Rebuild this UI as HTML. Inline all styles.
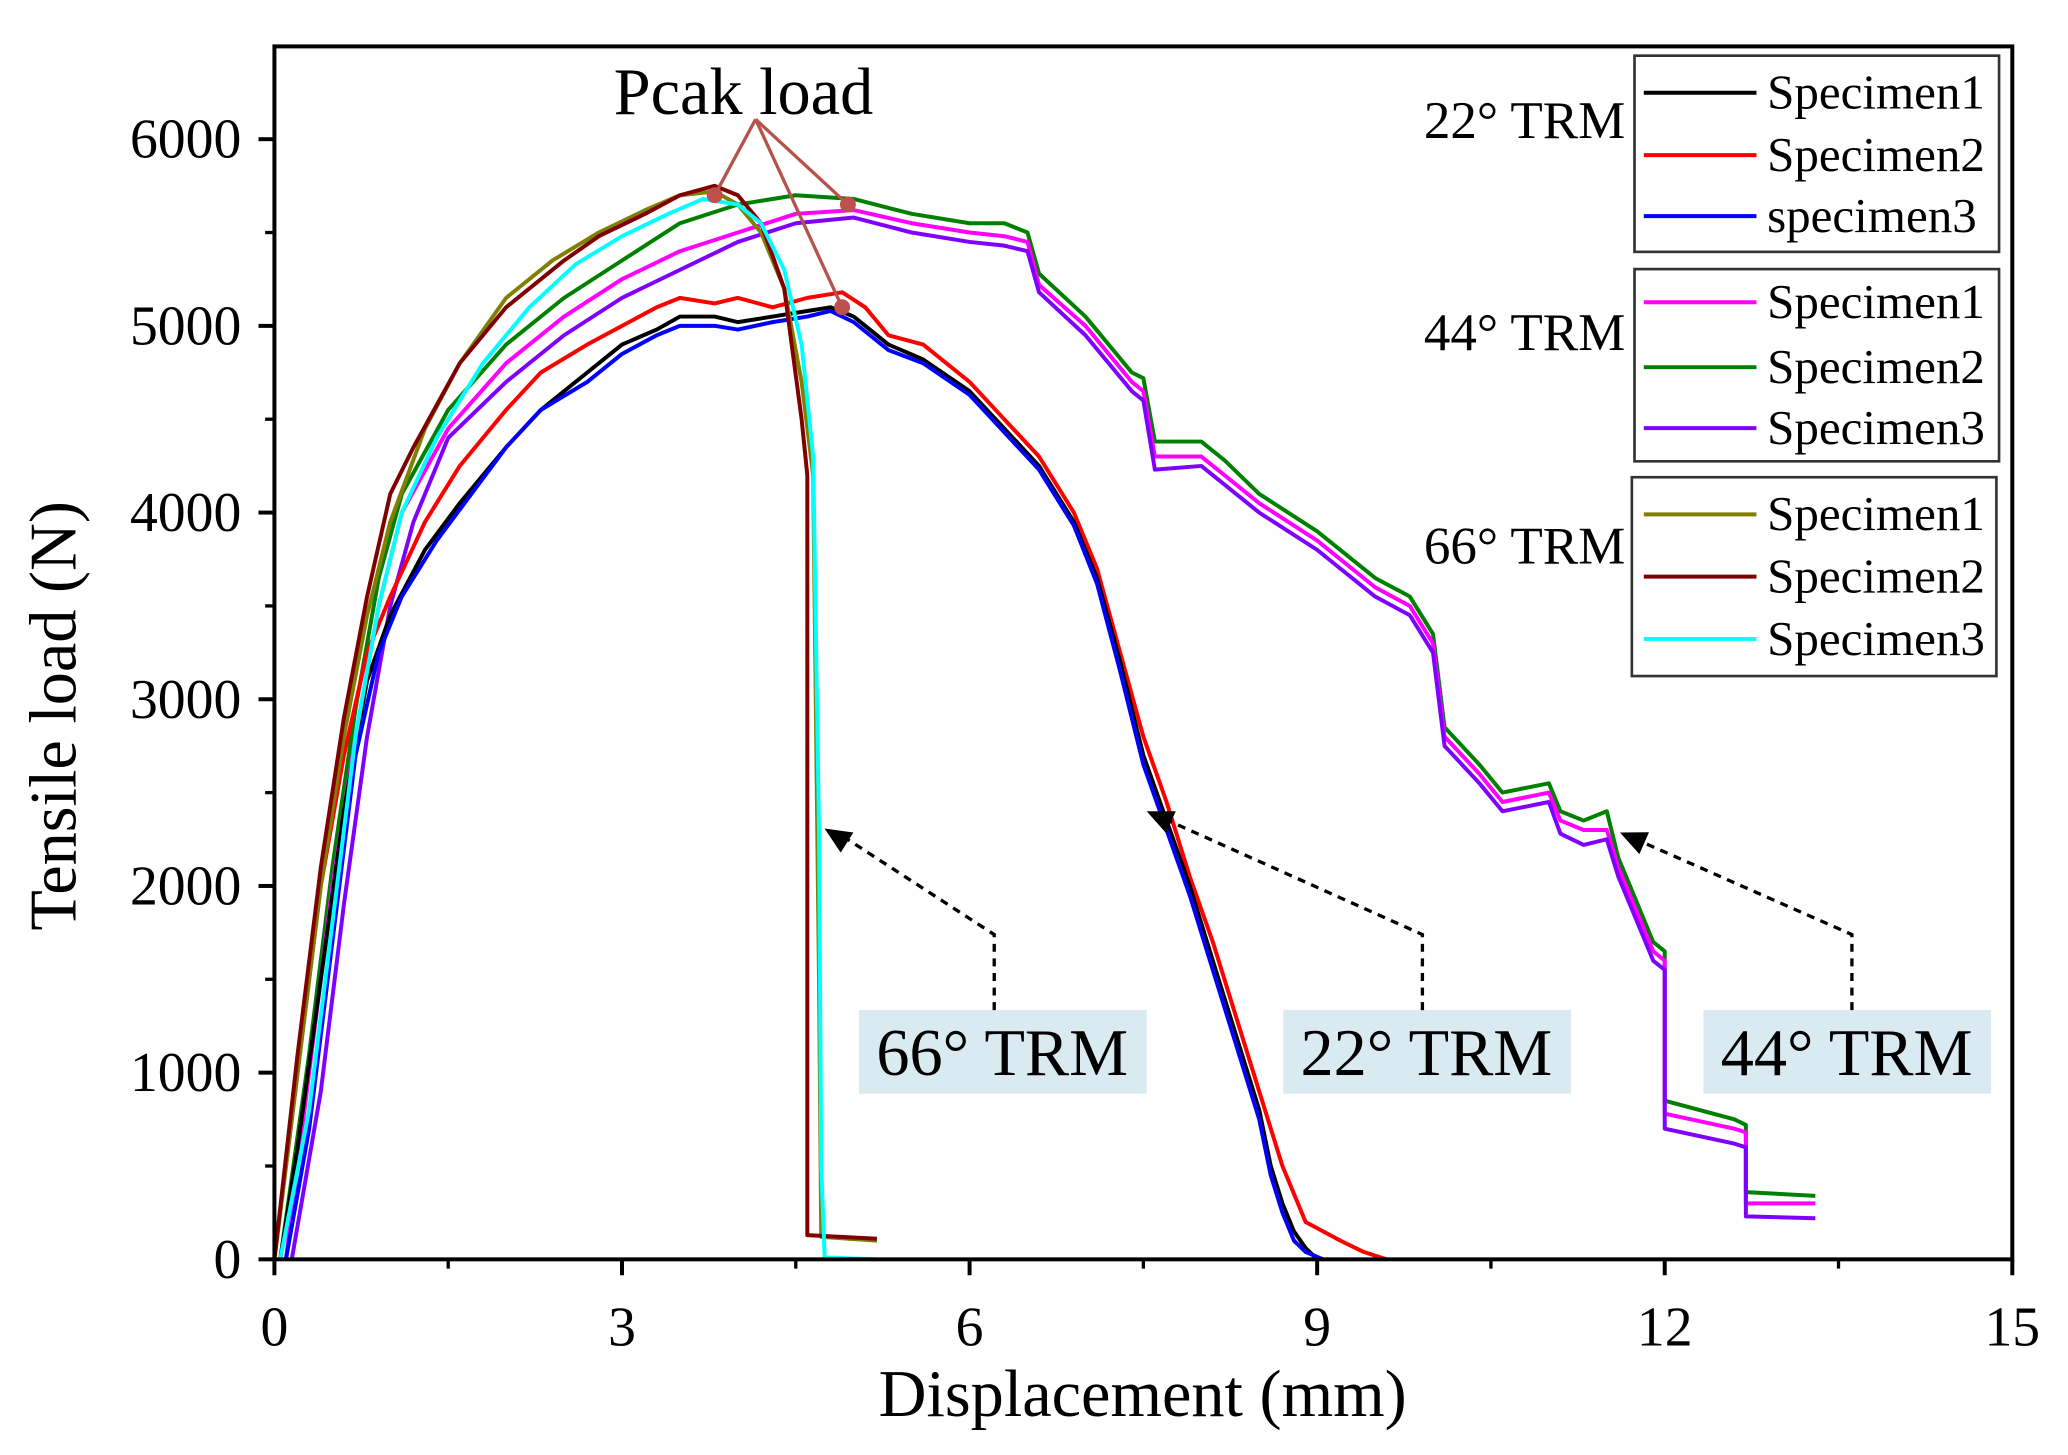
<!DOCTYPE html>
<html><head><meta charset="utf-8"><style>
html,body{margin:0;padding:0;background:#fff;}
svg{display:block;font-family:"Liberation Serif",serif;}
</style></head><body>
<svg id="chart" width="2068" height="1455" viewBox="0 0 1560 1097.6" xmlns="http://www.w3.org/2000/svg">
<g id="plot"></g>
<g id="axes"></g>
<g id="legend">
  <rect x="1233" y="42" width="275" height="148" fill="#fff" stroke="#333" stroke-width="2"/>
  <rect x="1233" y="203" width="275" height="145" fill="#fff" stroke="#333" stroke-width="2"/>
  <rect x="1231" y="360" width="275" height="150" fill="#fff" stroke="#333" stroke-width="2"/>
  <text x="1226" y="104" font-size="40" text-anchor="end">22° TRM</text>
  <text x="1226" y="264" font-size="40" text-anchor="end">44° TRM</text>
  <text x="1226" y="425" font-size="40" text-anchor="end">66° TRM</text>
</g>
<g id="annot">
  <text x="463" y="86" font-size="50">Pcak load</text>
</g>
</svg>
<script>
// ---- data (x: displacement mm, y: load N) ----
const s22_1x=[0.05,0.2,0.4,0.6,0.8,1.0,1.3,1.6,2.0,2.3,2.7,3.0,3.3,3.5,3.8,4.0,4.3,4.6,4.8,5.0,5.3,5.6,6.0,6.3,6.6,6.9,7.1,7.3,7.5,7.7,7.9,8.1,8.3,8.5,8.6,8.7,8.8,8.9,9.0];
const s22_1y=[0,600,1500,2400,3100,3450,3800,4050,4350,4550,4750,4900,4980,5050,5050,5020,5050,5080,5100,5050,4900,4820,4650,4450,4250,3950,3650,3200,2700,2350,2000,1600,1200,800,500,300,150,60,0];
const s22_2x=[0.0,0.2,0.4,0.6,0.8,1.0,1.3,1.6,2.0,2.3,2.7,3.0,3.3,3.5,3.8,4.0,4.3,4.6,4.9,5.1,5.3,5.6,6.0,6.3,6.6,6.9,7.1,7.3,7.5,7.7,7.9,8.1,8.3,8.5,8.7,8.9,9.2,9.4,9.6];
const s22_2y=[0,1000,2000,2700,3250,3550,3950,4250,4550,4750,4900,5000,5100,5150,5120,5150,5100,5150,5180,5100,4950,4900,4700,4500,4300,4000,3700,3250,2800,2450,2050,1700,1300,900,500,200,100,40,0];
const s22_3x=[0.1,0.3,0.5,0.7,0.9,1.1,1.4,1.7,2.0,2.3,2.7,3.0,3.3,3.5,3.8,4.0,4.3,4.6,4.8,5.0,5.3,5.6,6.0,6.3,6.6,6.9,7.1,7.3,7.5,7.7,7.9,8.1,8.3,8.5,8.6,8.7,8.8,8.9,9.05];
const s22_3y=[0,700,1700,2700,3250,3550,3850,4100,4350,4550,4700,4850,4950,5000,5000,4980,5020,5050,5080,5020,4870,4800,4630,4430,4230,3930,3620,3150,2650,2300,1950,1550,1150,750,450,250,100,40,0];
const s44_1x=[0.1,0.3,0.5,0.7,0.9,1.1,1.5,2.0,2.5,3.0,3.5,4.0,4.5,5.0,5.5,6.0,6.3,6.5,6.6,7.0,7.4,7.5,7.6,8.0,8.2,8.5,9.0,9.5,9.8,10.0,10.1,10.4,10.6,11.0,11.1,11.3,11.5,11.6,11.7,11.9,12.0,12.0,12.6,12.7,12.7,13.3];
const s44_1y=[0,1000,2000,2800,3500,4000,4450,4800,5050,5250,5400,5500,5600,5620,5550,5500,5480,5450,5220,5000,4700,4650,4300,4300,4200,4050,3850,3600,3500,3300,2800,2600,2450,2500,2350,2300,2300,2100,1950,1650,1600,780,700,680,300,300];
const s44_2x=[0.05,0.3,0.5,0.7,0.9,1.1,1.5,2.0,2.5,3.0,3.5,4.0,4.5,5.0,5.5,6.0,6.3,6.5,6.6,7.0,7.4,7.5,7.6,8.0,8.2,8.5,9.0,9.5,9.8,10.0,10.1,10.4,10.6,11.0,11.1,11.3,11.5,11.6,11.7,11.9,12.0,12.0,12.6,12.7,12.7,13.3];
const s44_2y=[0,1100,2100,2950,3650,4100,4550,4900,5150,5350,5550,5650,5700,5680,5600,5550,5550,5500,5280,5050,4750,4720,4380,4380,4280,4100,3900,3650,3550,3350,2850,2650,2500,2550,2400,2350,2400,2150,2000,1700,1650,850,750,720,360,340];
const s44_3x=[0.15,0.4,0.6,0.8,1.0,1.2,1.5,2.0,2.5,3.0,3.5,4.0,4.5,5.0,5.5,6.0,6.3,6.5,6.6,7.0,7.4,7.5,7.6,8.0,8.2,8.5,9.0,9.5,9.8,10.0,10.1,10.4,10.6,11.0,11.1,11.3,11.5,11.6,11.7,11.9,12.0,12.0,12.6,12.7,12.7,13.3];
const s44_3y=[0,900,1900,2800,3500,3950,4400,4700,4950,5150,5300,5450,5550,5580,5500,5450,5430,5400,5180,4950,4650,4600,4230,4250,4150,4000,3800,3550,3450,3250,2750,2550,2400,2450,2280,2220,2250,2050,1900,1600,1550,700,620,600,230,220];
const s66_1x=[0.0,0.2,0.4,0.6,0.8,1.0,1.3,1.6,2.0,2.4,2.8,3.2,3.5,3.8,4.0,4.2,4.4,4.55,4.65,4.7,4.72,5.2];
const s66_1y=[0,1000,2000,2800,3450,3950,4450,4800,5150,5350,5500,5620,5700,5720,5650,5500,5200,4700,4200,1500,120,100];
const s66_2x=[0.0,0.2,0.4,0.6,0.8,1.0,1.2,1.6,2.0,2.5,2.8,3.2,3.5,3.8,4.0,4.2,4.4,4.55,4.6,4.6,5.2];
const s66_2y=[0,1100,2100,2900,3550,4100,4350,4800,5100,5350,5480,5600,5700,5750,5700,5550,5200,4500,4200,130,110];
const s66_3x=[0.05,0.3,0.5,0.7,0.9,1.1,1.4,1.8,2.2,2.6,3.0,3.4,3.7,4.0,4.2,4.4,4.55,4.65,4.7,4.72,4.75,5.2];
const s66_3y=[0,800,1800,2800,3500,4000,4400,4800,5100,5330,5480,5600,5680,5650,5550,5300,4900,4300,2300,500,10,0];
const xTicks=[0,3,6,9,12,15];
const yTicks=[0,1000,2000,3000,4000,5000,6000];

const NS='http://www.w3.org/2000/svg';
const X0=207,X1=1518,Y0=950,Y6=105,TOP=35;
function sx(v){return X0+(X1-X0)*v/15;}
function sy(v){return Y0-(Y0-Y6)*v/6000;}
function mk(tag,attrs,parent){const e=document.createElementNS(NS,tag);for(const k in attrs)e.setAttribute(k,attrs[k]);parent.appendChild(e);return e;}
const plot=document.getElementById('plot'),axes=document.getElementById('axes'),legend=document.getElementById('legend'),annot=document.getElementById('annot');

const series=[
 ['22-specimen1',s22_1x,s22_1y,'#000000','Specimen1',0],
 ['22-specimen2',s22_2x,s22_2y,'#ff0000','Specimen2',0],
 ['22-specimen3',s22_3x,s22_3y,'#0000ff','specimen3',0],
 ['44-specimen1',s44_1x,s44_1y,'#ff00ff','Specimen1',1],
 ['44-specimen2',s44_2x,s44_2y,'#008000','Specimen2',1],
 ['44-specimen3',s44_3x,s44_3y,'#8000ff','Specimen3',1],
 ['66-specimen1',s66_1x,s66_1y,'#808000','Specimen1',2],
 ['66-specimen2',s66_2x,s66_2y,'#800000','Specimen2',2],
 ['66-specimen3',s66_3x,s66_3y,'#00ffff','Specimen3',2]
];
const drawOrder=[4,3,5,1,0,2,6,7,8];
drawOrder.forEach(i=>{const s=series[i];
 const d=s[1].map((v,j)=>(j?'L':'M')+sx(v).toFixed(1)+' '+sy(s[2][j]).toFixed(1)).join(' ');
 const p=mk('path',{d:d,fill:'none',stroke:s[3],'stroke-width':3,'stroke-linejoin':'round'},plot);
 
 
});
// legend entries
const rowsY=[[70,117,163],[228,277,323],[388,435,482]];
series.forEach((s,i)=>{const g=s[5],r=i%3,y=rowsY[g][r];
 const l=mk('line',{x1:1240,x2:1325,y1:y,y2:y,stroke:s[3],'stroke-width':3},legend);
 
 
 const t=mk('text',{x:1333,y:y+12,'font-size':37},legend);t.textContent=s[4];
 
 
});
// axes frame
const fr=mk('rect',{x:X0,y:TOP,width:X1-X0,height:Y0-TOP,fill:'none',stroke:'#000','stroke-width':3},axes);


xTicks.forEach(v=>{const t=mk('text',{x:sx(v),y:1015,'font-size':42,'text-anchor':'middle'},axes);t.textContent=v;
 
 
 mk('line',{x1:sx(v),x2:sx(v),y1:Y0,y2:Y0+12,stroke:'#000','stroke-width':3},axes);
});
for(let v=1.5;v<15;v+=3)mk('line',{x1:sx(v),x2:sx(v),y1:Y0,y2:Y0+7,stroke:'#000','stroke-width':2.5},axes);
yTicks.forEach(v=>{const t=mk('text',{x:182,y:sy(v)+14,'font-size':42,'text-anchor':'end'},axes);t.textContent=v;
 
 
 mk('line',{x1:X0-12,x2:X0,y1:sy(v),y2:sy(v),stroke:'#000','stroke-width':3},axes);
});
for(let v=500;v<6500;v+=1000)mk('line',{x1:X0-7,x2:X0,y1:sy(v),y2:sy(v),stroke:'#000','stroke-width':2.5},axes);
const xt=mk('text',{x:862,y:1068,'font-size':50,'text-anchor':'middle'},axes);xt.textContent='Displacement (mm)';


const yt=mk('text',{x:0,y:0,'font-size':50,'text-anchor':'middle',transform:'translate(57,540) rotate(-90)'},axes);yt.textContent='Tensile load (N)';


// peak markers
[[3.8,5700],[4.95,5650],[4.9,5100]].forEach(p=>{
 mk('line',{x1:570,y1:90,x2:sx(p[0]),y2:sy(p[1]),stroke:'#b5524a','stroke-width':2.5},annot);
 const c=mk('circle',{cx:sx(p[0]),cy:sy(p[1]),r:6,fill:'#c0504d'},annot);
 
 
});
// arrow annotations
const boxes=[['66° TRM',648,750,622,625],['22° TRM',968,1073,865,612],['44° TRM',1285,1397,1222,628]];
boxes.forEach(b=>{
 const r=mk('rect',{x:b[1],y:762,width:217,height:63,fill:'#d9eaf0'},annot);
 
 
 const t=mk('text',{x:b[1]+108,y:811,'font-size':50,'text-anchor':'middle'},annot);t.textContent=b[0];
 
 
 mk('path',{d:`M${b[2]} 762 L${b[2]} 705 L${b[3]+14} ${b[4]+6}`,fill:'none',stroke:'#000','stroke-width':2.5,'stroke-dasharray':'6 5'},annot);
 const ang=Math.atan2(b[4]-705,b[3]-b[2]);
 const ax=b[3],ay=b[4],L=20,W=9;
 const bx=ax-L*Math.cos(ang),by=ay-L*Math.sin(ang);
 mk('polygon',{points:`${ax},${ay} ${bx-W*Math.sin(ang)},${by+W*Math.cos(ang)} ${bx+W*Math.sin(ang)},${by-W*Math.cos(ang)}`,fill:'#000'},annot);
});
</script>
</body></html>
